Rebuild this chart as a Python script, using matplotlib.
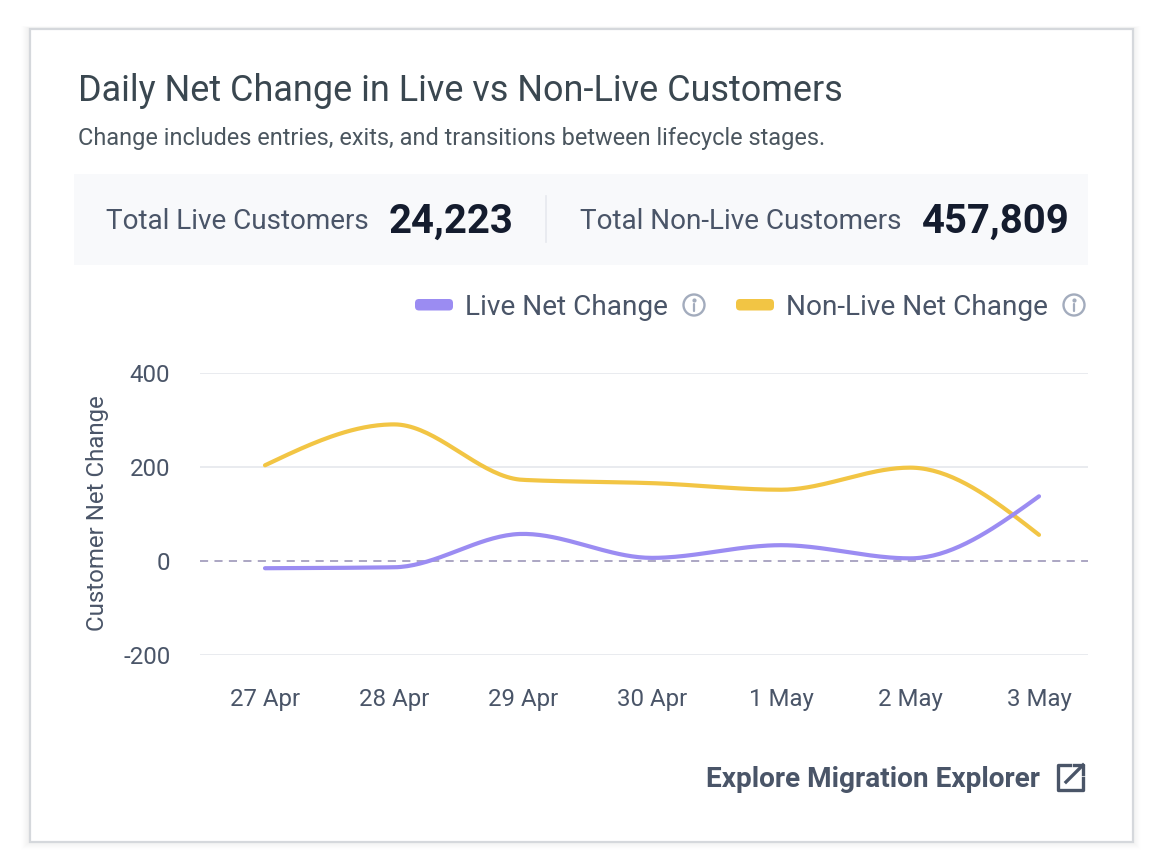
import numpy as np
import matplotlib
matplotlib.use("Agg")
import matplotlib.pyplot as plt
from matplotlib.patches import Rectangle, FancyBboxPatch, Circle
from matplotlib.transforms import ScaledTranslation

plt.rcParams['font.family'] = ['Roboto', 'DejaVu Sans']

days = ['27 Apr', '28 Apr', '29 Apr', '30 Apr', '1 May', '2 May', '3 May']
live = [-16, -14, 57, 6, 33, 5, 137]
non_live = [203, 290, 172, 165, 151, 198, 55]
y_ticks = [-200, 0, 200, 400]
y_labels = ['-200', '0', '200', '400']
total_live = '24,223'
total_non_live = '457,809'

PURPLE = '#9b8cf2'
YELLOW = '#f2c544'
TEXT = '#4a5568'
DARK = '#3a4750'


def monotone(y, n=40):
    """Monotone cubic rendering of the line, as the chart's curve style does."""
    y = np.asarray(y, float)
    x = np.arange(len(y), dtype=float)
    d = np.diff(y)
    m = np.zeros_like(y)
    for i in range(1, len(y) - 1):
        if d[i - 1] * d[i] > 0:
            m[i] = 2 * d[i - 1] * d[i] / (d[i - 1] + d[i])
    m[0] = (3 * d[0] - m[1]) / 2
    m[-1] = (3 * d[-1] - m[-2]) / 2
    xs, ys = [], []
    for i in range(len(y) - 1):
        t = np.linspace(0, 1, n)
        h00 = 2 * t**3 - 3 * t**2 + 1
        h10 = t**3 - 2 * t**2 + t
        h01 = -2 * t**3 + 3 * t**2
        h11 = t**3 - t**2
        xs.append(x[i] + t)
        ys.append(h00 * y[i] + h10 * m[i] + h01 * y[i + 1] + h11 * m[i + 1])
    return np.concatenate(xs), np.concatenate(ys)


W, H = 1160, 862
fig = plt.figure(figsize=(W / 100, H / 100), dpi=100, facecolor='white')

# page layer in pixel coordinates
bg = fig.add_axes([0, 0, 1, 1], zorder=0)
bg.set_xlim(0, W)
bg.set_ylim(H, 0)
bg.axis('off')

for i, a in zip(range(8, 0, -1), [0.004, 0.005, 0.006, 0.008, 0.01, 0.012, 0.014, 0.018]):
    bg.add_patch(Rectangle((29 - i, 29 - i * 0.3), 1104 + 2 * i, 814 + 1.3 * i, fc='#7a7a7a', ec='none', alpha=a))
bg.add_patch(Rectangle((29.5, 29.5), 1103.5, 813.5, fc='white', ec='#d5d8dc', lw=1.6))
bg.add_patch(Rectangle((74, 175), 1014, 91, fc='#f8f9fb', ec='none'))
bg.plot([546, 546], [197, 243], color='#e6e9ee', lw=1.2)

bg.text(78.5, 91, 'Daily Net Change in Live vs Non-Live Customers', fontsize=25.88, color=DARK, va='center', ha='left')
bg.text(78.5, 139, 'Change includes entries, exits, and transitions between lifecycle stages.', fontsize=16.9,
        color='#4b565f', va='center', ha='left')
bg.text(106.5, 222, 'Total Live Customers', fontsize=20.05, color=TEXT, va='center', ha='left')
bg.text(389, 221.5, total_live, fontsize=28.9, color='#141c2e', va='center', ha='left', fontweight='bold')
bg.text(579.5, 222, 'Total Non-Live Customers', fontsize=20.05, color=TEXT, va='center', ha='left')
bg.text(922, 221.5, total_non_live, fontsize=28.9, color='#141c2e', va='center', ha='left', fontweight='bold')

# legend
bg.add_patch(FancyBboxPatch((415, 300), 38, 11.5, boxstyle='round,pad=0,rounding_size=4', fc=PURPLE, ec='none'))
bg.text(465, 307.5, 'Live Net Change', fontsize=20.2, color=TEXT, va='center', ha='left')
bg.add_patch(FancyBboxPatch((736, 300), 38, 11.5, boxstyle='round,pad=0,rounding_size=4', fc=YELLOW, ec='none'))
bg.text(786, 307.5, 'Non-Live Net Change', fontsize=20.2, color=TEXT, va='center', ha='left')
for cx in (694, 1074):
    bg.add_patch(Circle((cx, 306), 10.5, fc='none', ec='#a3acbd', lw=1.7))
    bg.plot([cx, cx], [304.5, 312], color='#a3acbd', lw=1.6, solid_capstyle='round')
    bg.plot([cx], [300.5], 'o', ms=2.0, color='#a3acbd')

# link
bg.text(706.5, 780, 'Explore Migration Explorer', fontsize=20.15, color=TEXT, va='center', ha='left', fontweight='bold')
bg.plot([1070, 1058, 1058, 1083, 1083], [766, 766, 791, 791, 779], color=TEXT, lw=2.4, solid_joinstyle='round')
bg.plot([1066, 1083], [783, 766], color=TEXT, lw=2.4)
bg.plot([1074, 1083, 1083], [766, 766, 775], color=TEXT, lw=2.4)

# chart
left, right, top, bottom = 200, 1088, 373.7, 655.7
ax = fig.add_axes([left / W, 1 - bottom / H, (right - left) / W, (bottom - top) / H], zorder=1)
ax.patch.set_alpha(0)
ax.set_xlim((left - 265) / 129, (right - 265) / 129)
ax.set_ylim(-200, 400)
for s in ax.spines.values():
    s.set_visible(False)
ax.set_yticks(y_ticks)
ax.set_yticklabels(y_labels)
ax.set_xticks(range(len(days)))
ax.set_xticklabels(days)
ax.tick_params(length=0, labelsize=17.25, labelcolor=TEXT)
ax.tick_params(axis='x', pad=23.6)
ax.tick_params(axis='y', pad=21.4)
up = ScaledTranslation(0, 0.007, fig.dpi_scale_trans)
for lab in ax.get_yticklabels():
    lab.set_transform(lab.get_transform() + up)
ax.grid(axis='y', color='#e9ebef', lw=1.4)
ax.set_axisbelow(True)
ax.axhline(0, color='white', lw=2, zorder=1)
ax.axhline(0, color='#a59fbe', lw=1.3, ls=(0, (4.5, 3.5)), zorder=1.5)
ax.set_ylabel('Customer Net Change', fontsize=17.25, color=TEXT, labelpad=0)
ax.yaxis.set_label_coords((109 - left) / (right - left), 0.507)

x, y = monotone(non_live)
ax.plot(x, y, color=YELLOW, lw=3.0, solid_capstyle='round', clip_on=False, zorder=3)
x, y = monotone(live)
ax.plot(x, y, color=PURPLE, lw=3.0, solid_capstyle='round', clip_on=False, zorder=4)

fig.savefig('out.png', dpi=100, facecolor='white')
